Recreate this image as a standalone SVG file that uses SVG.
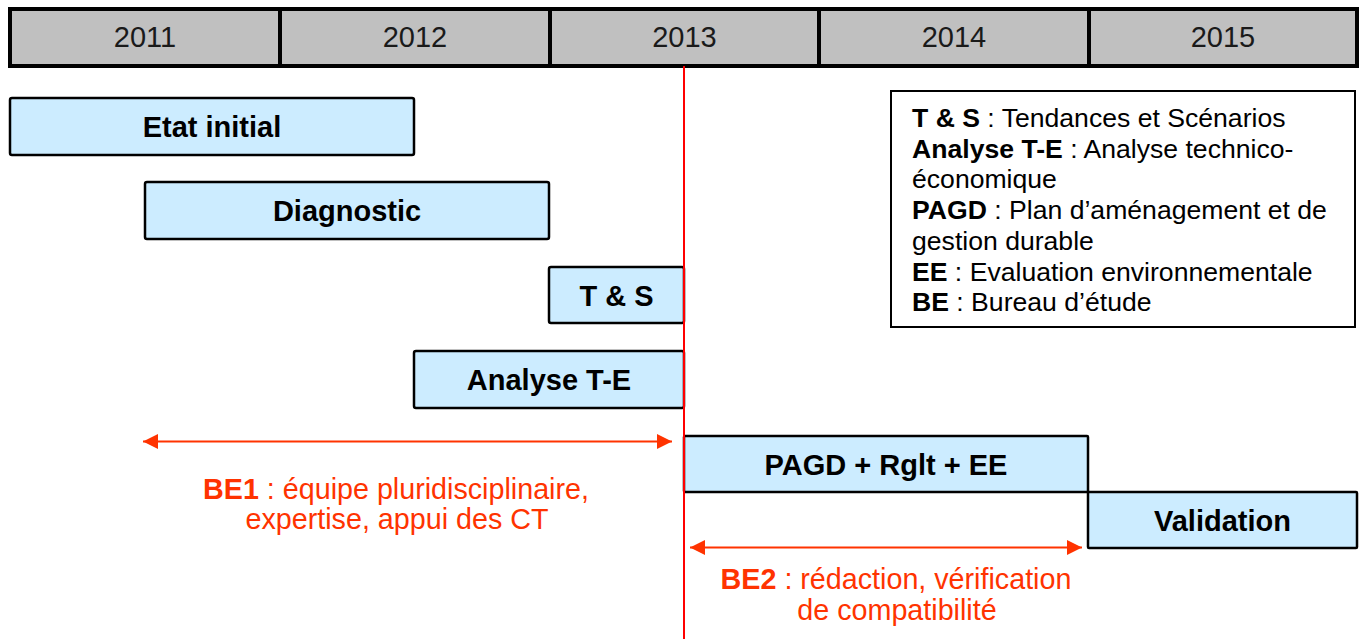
<svg xmlns="http://www.w3.org/2000/svg" width="1364" height="639" viewBox="0 0 1364 639">
<style>
.hdr{fill:#C0C0C0;stroke:#000;stroke-width:4}
.yr{font-family:"Liberation Sans",Arial,sans-serif;font-size:29px;fill:#1a1a1a;text-anchor:middle}
.box{fill:#CCECFF;stroke:#000;stroke-width:2.5}
.lbl{font-family:"Liberation Sans",Arial,sans-serif;font-size:29px;font-weight:bold;fill:#000;text-anchor:middle}
.leg{font-family:"Liberation Sans",Arial,sans-serif;font-size:26.6px;fill:#000}
.red{font-family:"Liberation Sans",Arial,sans-serif;font-size:28.7px;fill:#FF3300;text-anchor:middle}
.arr{stroke:#FF3300;stroke-width:2.2;fill:none}
.b{font-weight:bold}
</style>
<defs>
<marker id="ah" markerWidth="15" markerHeight="15" refX="15" refY="7.5" orient="auto-start-reverse" markerUnits="userSpaceOnUse">
<path d="M0,0 L15,7.5 L0,15 Z" fill="#FF3300"/>
</marker>
</defs>
<rect width="1364" height="639" fill="#fff"/>
<g id="timeline">
<rect class="hdr" x="10" y="9" width="1347" height="57"/>
<line x1="280" y1="9" x2="280" y2="66" stroke="#000" stroke-width="4"/>
<line x1="550" y1="9" x2="550" y2="66" stroke="#000" stroke-width="4"/>
<line x1="819" y1="9" x2="819" y2="66" stroke="#000" stroke-width="4"/>
<line x1="1089" y1="9" x2="1089" y2="66" stroke="#000" stroke-width="4"/>
<text class="yr" x="145" y="47">2011</text>
<text class="yr" x="415" y="47">2012</text>
<text class="yr" x="684.5" y="47">2013</text>
<text class="yr" x="954" y="47">2014</text>
<text class="yr" x="1223" y="47">2015</text>
</g>
<g id="etat-initial"><rect class="box" x="10" y="98" width="404" height="57" rx="2"/><text class="lbl" x="212" y="136.5">Etat initial</text></g>
<g id="diagnostic"><rect class="box" x="145" y="182" width="404" height="57" rx="2"/><text class="lbl" x="347" y="221">Diagnostic</text></g>
<g id="ts"><rect class="box" x="549" y="267" width="135" height="56" rx="2"/><text class="lbl" x="616.5" y="305.5">T &amp; S</text></g>
<g id="analyse-te"><rect class="box" x="414" y="351" width="270" height="57" rx="2"/><text class="lbl" x="549" y="390">Analyse T-E</text></g>
<g id="pagd"><rect class="box" x="684" y="436" width="404" height="56" rx="1"/><text class="lbl" x="886" y="474.5">PAGD + Rglt + EE</text></g>
<g id="validation"><rect class="box" x="1088" y="492" width="269" height="56" rx="1"/><text class="lbl" x="1222.5" y="530.5">Validation</text></g>
<g id="legend">
<rect x="891" y="91" width="464" height="236" fill="#fff" stroke="#000" stroke-width="2"/>
<text class="leg" x="912" y="127"><tspan class="b">T &amp; S</tspan> : Tendances et Scénarios</text>
<text class="leg" x="912" y="157.7"><tspan class="b">Analyse T-E</tspan> : Analyse technico-</text>
<text class="leg" x="912" y="188.4">économique</text>
<text class="leg" x="912" y="219.1"><tspan class="b">PAGD</tspan> : Plan d’aménagement et de</text>
<text class="leg" x="912" y="249.8">gestion durable</text>
<text class="leg" x="912" y="280.5"><tspan class="b">EE</tspan> : Evaluation environnementale</text>
<text class="leg" x="912" y="311.2"><tspan class="b">BE</tspan> : Bureau d’étude</text>
</g>
<g id="connectors">
<line x1="684" y1="66" x2="684" y2="639" stroke="#FF0000" stroke-width="2"/>
<line class="arr" x1="143" y1="441.5" x2="672" y2="441.5" marker-start="url(#ah)" marker-end="url(#ah)"/>
<line class="arr" x1="690" y1="547.5" x2="1082" y2="547.5" marker-start="url(#ah)" marker-end="url(#ah)"/>
</g>
<g id="be1">
<text class="red" x="396" y="499"><tspan class="b">BE1</tspan> : équipe pluridisciplinaire,</text>
<text class="red" x="397" y="529">expertise, appui des CT</text>
</g>
<g id="be2">
<text class="red" x="896" y="589"><tspan class="b">BE2</tspan> : rédaction, vérification</text>
<text class="red" x="897" y="620">de compatibilité</text>
</g>
</svg>
